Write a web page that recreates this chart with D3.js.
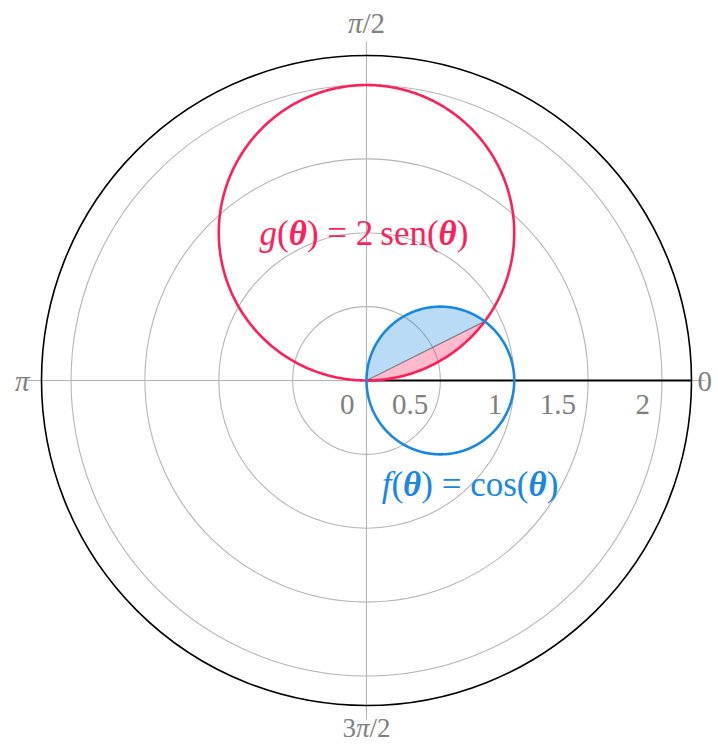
<!DOCTYPE html>
<html>
<head>
<meta charset="utf-8">
<script src="https://cdn.jsdelivr.net/npm/d3@7"></script>
<style>
  body { margin: 0; background: #fff; }
</style>
</head>
<body>
<div id="chart"></div>
<script>
// radial axis
const rMax = 2.2;
const gridRadii = [0.5, 1, 1.5, 2];
const radialTicks = [0, 0.5, 1, 1.5, 2];
const radialLabels = ["0", "0.5", "1", "1.5", "2"];

// angle axis (degrees)
const angleTicks = [0, 90, 180, 270];
const angleLabels = ["0", "π/2", "π", "3π/2"];

// colours
const colF = "#1a88e0";
const colG = "#ff1f5a";

const FONT = "'Liberation Serif', 'Times New Roman', Times, 'DejaVu Serif', serif";

const width = 718, height = 744;
const cx = 366.5, cy = 380.5;

const svg = d3.select("#chart").append("svg")
    .attr("width", width)
    .attr("height", height);

const r = d3.scaleLinear().domain([0, rMax]).range([0, 325]);
const R = r(rMax);

// θ matematico -> angolo d3 (0 in alto, orario)
const toD3 = t => Math.PI / 2 - t;

const f = t => Math.cos(t);
const g = t => 2 * Math.sin(t);

const radial = d3.lineRadial()
    .angle(d => toD3(d[0]))
    .radius(d => r(d[1]));

const root = svg.append("g").attr("transform", `translate(${cx},${cy})`);

// griglia
root.append("g")
    .selectAll("circle")
    .data(gridRadii)
    .enter()
    .append("circle")
    .attr("r", d => r(d))
    .attr("fill", "none")
    .attr("stroke", "#b5b5b5")
    .attr("stroke-width", 1.1);

root.append("g")
    .selectAll("line")
    .data(angleTicks)
    .enter()
    .append("line")
    .attr("x1", 0).attr("y1", 0)
    .attr("x2", d => (R + 14) * Math.cos(d * Math.PI / 180))
    .attr("y2", d => -(R + 14) * Math.sin(d * Math.PI / 180))
    .attr("stroke", "#b5b5b5")
    .attr("stroke-width", 1.1);

// area tra le curve
const alpha = Math.atan(0.5);
const blueArea = d3.range(alpha, Math.PI / 2, 0.01).concat([Math.PI / 2]).map(t => [t, f(t)]);
blueArea.push([0, 0]);
const pinkArea = d3.range(0, alpha, 0.005).concat([alpha]).map(t => [t, g(t)]);

root.append("path")
    .attr("d", radial(blueArea) + "Z")
    .attr("fill", colF)
    .attr("fill-opacity", 0.3)
    .attr("stroke", "none");

root.append("path")
    .attr("d", radial(pinkArea) + "Z")
    .attr("fill", colG)
    .attr("fill-opacity", 0.3)
    .attr("stroke", "none");

root.append("path")
    .attr("d", radial([[0, 0], [alpha, f(alpha)]]))
    .attr("stroke", "#808080")
    .attr("stroke-width", 1.2)
    .attr("fill", "none");

// asse radiale e bordo
root.append("line")
    .attr("x1", 0).attr("y1", 0)
    .attr("x2", R).attr("y2", 0)
    .attr("stroke", "#000")
    .attr("stroke-width", 2);

root.append("circle")
    .attr("r", R)
    .attr("fill", "none")
    .attr("stroke", "#000")
    .attr("stroke-width", 1.6);

// curve
const thetas = d3.range(0, Math.PI, 0.005).concat([Math.PI]);

root.append("path")
    .attr("d", radial(thetas.map(t => [t, g(t)])))
    .attr("fill", "none")
    .attr("stroke", colG)
    .attr("stroke-width", 2.6);

root.append("path")
    .attr("d", radial(thetas.map(t => [t, f(t)])))
    .attr("fill", "none")
    .attr("stroke", colF)
    .attr("stroke-width", 2.6);

// etichette radiali
root.append("g")
    .selectAll("text")
    .data(radialTicks)
    .enter()
    .append("text")
    .attr("x", d => r(d) - 12)
    .attr("y", 33)
    .attr("text-anchor", "end")
    .attr("font-family", FONT)
    .attr("font-size", 29)
    .attr("fill", "#808080")
    .text((d, i) => radialLabels[i]);

// etichette angolari
const angPos = [
    { x: R + 6, y: 10, anchor: "start" },
    { x: 0, y: -R - 23, anchor: "middle" },
    { x: -R - 12, y: 10, anchor: "end" },
    { x: 0, y: R + 31, anchor: "middle" }
];

root.append("g")
    .selectAll("text")
    .data(angleTicks)
    .enter()
    .append("text")
    .attr("x", (d, i) => angPos[i].x)
    .attr("y", (d, i) => angPos[i].y)
    .attr("text-anchor", (d, i) => angPos[i].anchor)
    .attr("font-family", FONT)
    .attr("font-size", (d, i) => i === 3 ? 27 : 29)
    .attr("fill", "#808080")
    .each(function (d, i) {
        const t = d3.select(this);
        const lab = angleLabels[i];
        lab.split("").forEach(ch => {
            t.append("tspan")
                .attr("font-style", ch === "π" ? "italic" : "normal")
                .text(ch);
        });
    });

// etichette funzioni
function mathLabel(x, y, parts, color) {
    const t = svg.append("text")
        .attr("x", x).attr("y", y)
        .attr("text-anchor", "middle")
        .attr("font-family", FONT)
        .attr("font-size", 35)
        .attr("fill", color);
    parts.forEach(p => {
        t.append("tspan")
            .attr("font-style", p[1] ? "italic" : "normal")
            .attr("font-weight", p[2] ? "bold" : "normal")
            .text(p[0]);
    });
}

mathLabel(364, 245, [["g", 1], ["("], ["θ", 1, 1], [")"], [" = 2\u2009"], ["sen"], ["("], ["θ", 1, 1], [")"]], colG);
mathLabel(470, 496, [["f", 1], ["("], ["θ", 1, 1], [")"], [" = "], ["cos"], ["("], ["θ", 1, 1], [")"]], colF);
</script>
</body>
</html>
